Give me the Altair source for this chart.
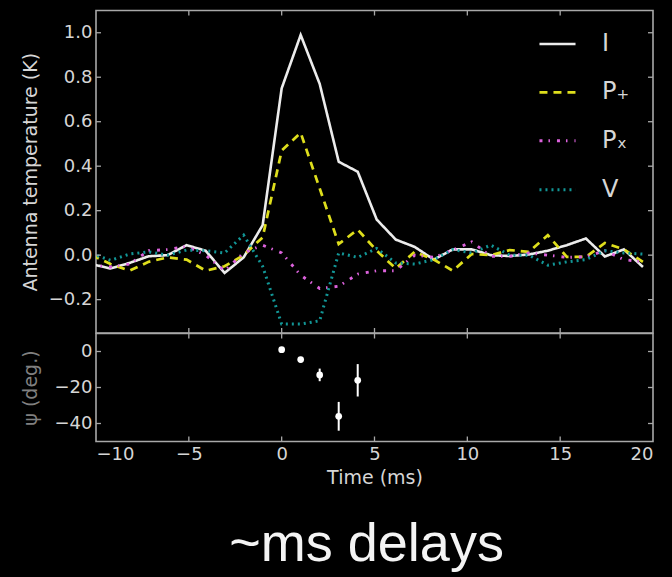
import altair as alt
import pandas as pd

# ---- data ----
times = [-10.24, -9.216, -8.192, -7.168, -6.144, -5.12, -4.096, -3.072, -2.048, -1.024,
         0.0, 1.024, 2.048, 3.072, 4.096, 5.12, 6.144, 7.168, 8.192, 9.216,
         10.24, 11.264, 12.288, 13.312, 14.336, 15.36, 16.384, 17.408, 18.432, 19.456]
I_vals = [-0.04, -0.06, -0.035, -0.005, 0.0, 0.045, 0.02, -0.08, -0.01, 0.135,
          0.75, 0.99, 0.77, 0.42, 0.375, 0.16, 0.07, 0.037, -0.02, 0.026,
          0.026, 0.0, -0.004, 0.003, 0.02, 0.045, 0.075, -0.006, 0.026, -0.053]
Pplus_vals = [0.0, -0.04, -0.07, -0.03, -0.01, -0.02, -0.07, -0.05, 0.0, 0.08,
              0.47, 0.55, 0.30, 0.05, 0.115, 0.02, -0.06, 0.015, -0.02, -0.07,
              0.005, 0.0, 0.023, 0.015, 0.09, -0.008, -0.008, 0.055, 0.026, -0.03]
Pcross_vals = [-0.045, -0.053, -0.04, 0.02, 0.025, 0.04, 0.0, -0.07, 0.01, 0.045,
               0.01, -0.09, -0.15, -0.14, -0.085, -0.07, -0.07, 0.0, -0.01, 0.023,
               0.06, -0.005, -0.005, 0.01, 0.0, -0.01, -0.007, 0.02, -0.02, -0.03]
V_vals = [0.007, -0.023, 0.005, 0.015, 0.0, 0.023, 0.02, 0.01, 0.09, -0.05,
          -0.31, -0.31, -0.295, 0.01, -0.01, 0.03, -0.035, -0.04, -0.02, 0.025,
          0.01, 0.045, 0.0, 0.0, -0.045, -0.03, -0.02, 0.02, 0.01, 0.005]
series_names = ["I", "P\u208a", "P\u2093", "V"]

psi_times = [0.0, 1.024, 2.048, 3.072, 4.096]
psi_vals = [1, -4.5, -13, -36, -16]
psi_errs = [1.5, 1.5, 3.5, 8, 9]

x_tick_vals = [-10, -5, 0, 5, 10, 15, 20]
x_inner_ticks = [-5, 0, 5, 10, 15]
y_ticks_top = [-0.2, 0.0, 0.2, 0.4, 0.6, 0.8, 1.0]
y_ticks_bot = [0, -20, -40]

# ---- styling ----
W, H1, H2 = 557, 322.5, 108
FRAME = "#a8a8a8"
TXT = "#d6d6d6"
FONT = "DejaVu Sans"
colors = ["#ececec", "#dede1c", "#dc62dc", "#129696"]
dashes = [[1, 0], [8, 6], [3, 6, 1.5, 7], [2, 4]]
widths = [2.6, 3, 3.5, 2.4]

rows = []
for name, vals in zip(series_names, [I_vals, Pplus_vals, Pcross_vals, V_vals]):
    for t, v in zip(times, vals):
        rows.append({"t": t, "v": v, "s": name})
df = pd.DataFrame(rows)

psi_df = pd.DataFrame({
    "t": psi_times,
    "psi": psi_vals,
    "lo": [p - e for p, e in zip(psi_vals, psi_errs)],
    "hi": [p + e for p, e in zip(psi_vals, psi_errs)],
})

xscale = alt.Scale(domain=[-10, 20], nice=False, zero=False)
yscale1 = alt.Scale(domain=[-0.35, 1.1], nice=False, zero=False)
yscale2 = alt.Scale(domain=[-50, 10], nice=False, zero=False)

ytop_axis = alt.Axis(
    values=y_ticks_top, format=".1f", title="Antenna temperature (K)",
    titleX=-65.5, titleY=H1 / 2, titleAngle=270, titleAlign="center",
    titleBaseline="middle")
ybot_axis = alt.Axis(
    values=y_ticks_bot, format="d", title="\u03c8 (deg.)", titleColor="#808080",
    titleX=-65.5, titleY=H2 / 2, titleAngle=270, titleAlign="center",
    titleBaseline="middle")
xbot_axis = alt.Axis(values=x_tick_vals, format="d", title="Time (ms)")

legend = alt.Legend(
    title=None, orient="none", legendX=441.5, legendY=14,
    symbolType="stroke", symbolSize=1300, labelFontSize=24, labelFont=FONT,
    labelColor=TXT, labelOffset=24.5, rowPadding=16.4, padding=0,
)

lines = alt.Chart(df).mark_line(clip=True).encode(
    x=alt.X("t:Q", scale=xscale, axis=None),
    y=alt.Y("v:Q", scale=yscale1, axis=ytop_axis),
    color=alt.Color("s:N", scale=alt.Scale(domain=series_names, range=colors), legend=legend),
    strokeDash=alt.StrokeDash("s:N", scale=alt.Scale(domain=series_names, range=dashes), legend=legend),
    strokeWidth=alt.StrokeWidth("s:N", scale=alt.Scale(domain=series_names, range=widths), legend=legend),
)


def xticks(h, xaxis):
    d = pd.DataFrame({"t": x_inner_ticks})
    top = alt.Chart(d).mark_rule(color=FRAME, strokeWidth=1.3).encode(
        x=alt.X("t:Q", scale=xscale, axis=xaxis), y=alt.value(0), y2=alt.value(5))
    bot = alt.Chart(d).mark_rule(color=FRAME, strokeWidth=1.3).encode(
        x=alt.X("t:Q", scale=xscale, axis=xaxis), y=alt.value(h - 5), y2=alt.value(h))
    return [top, bot]


def yticks(vals, scale, yaxis):
    d = pd.DataFrame({"v": vals})
    left = alt.Chart(d).mark_rule(color=FRAME, strokeWidth=1.3).encode(
        y=alt.Y("v:Q", scale=scale, axis=yaxis), x=alt.value(0), x2=alt.value(5))
    right = alt.Chart(d).mark_rule(color=FRAME, strokeWidth=1.3).encode(
        y=alt.Y("v:Q", scale=scale, axis=yaxis), x=alt.value(W - 5), x2=alt.value(W))
    return [left, right]


top = alt.layer(
    lines, *xticks(H1, None), *yticks(y_ticks_top, yscale1, ytop_axis)
).properties(width=W, height=H1)

errbars = alt.Chart(psi_df).mark_rule(color="#ffffff", strokeWidth=2).encode(
    x=alt.X("t:Q", scale=xscale, axis=xbot_axis),
    y=alt.Y("lo:Q", scale=yscale2, axis=ybot_axis),
    y2="hi:Q",
)
points = alt.Chart(psi_df).mark_circle(color="#ffffff", size=45, opacity=1).encode(
    x=alt.X("t:Q", scale=xscale, axis=xbot_axis),
    y=alt.Y("psi:Q", scale=yscale2, axis=ybot_axis),
)
bottom = alt.layer(
    errbars, points, *xticks(H2, xbot_axis), *yticks(y_ticks_bot, yscale2, ybot_axis)
).properties(width=W, height=H2)

chart = alt.vconcat(top, bottom, spacing=0, bounds="flush").properties(
    background="#000000",
    padding={"left": 20, "top": 8.5, "right": 17, "bottom": 6.5},
    title=alt.TitleParams(
        "~ms delays", orient="bottom", anchor="middle", font="Liberation Sans",
        fontSize=54, fontWeight=300, color="#f4f4f4", offset=30, dx=29),
).configure_view(
    stroke=FRAME, strokeWidth=1.6,
).configure_axis(
    domain=False, grid=False, ticks=False, labelFont=FONT, labelFontSize=18,
    labelColor=TXT, titleFont=FONT, titleFontSize=19, titleFontWeight="normal",
    titleColor=TXT, labelPadding=4, titlePadding=5,
)

chart.save("out.html", embed_options={"renderer": "svg", "actions": False})
